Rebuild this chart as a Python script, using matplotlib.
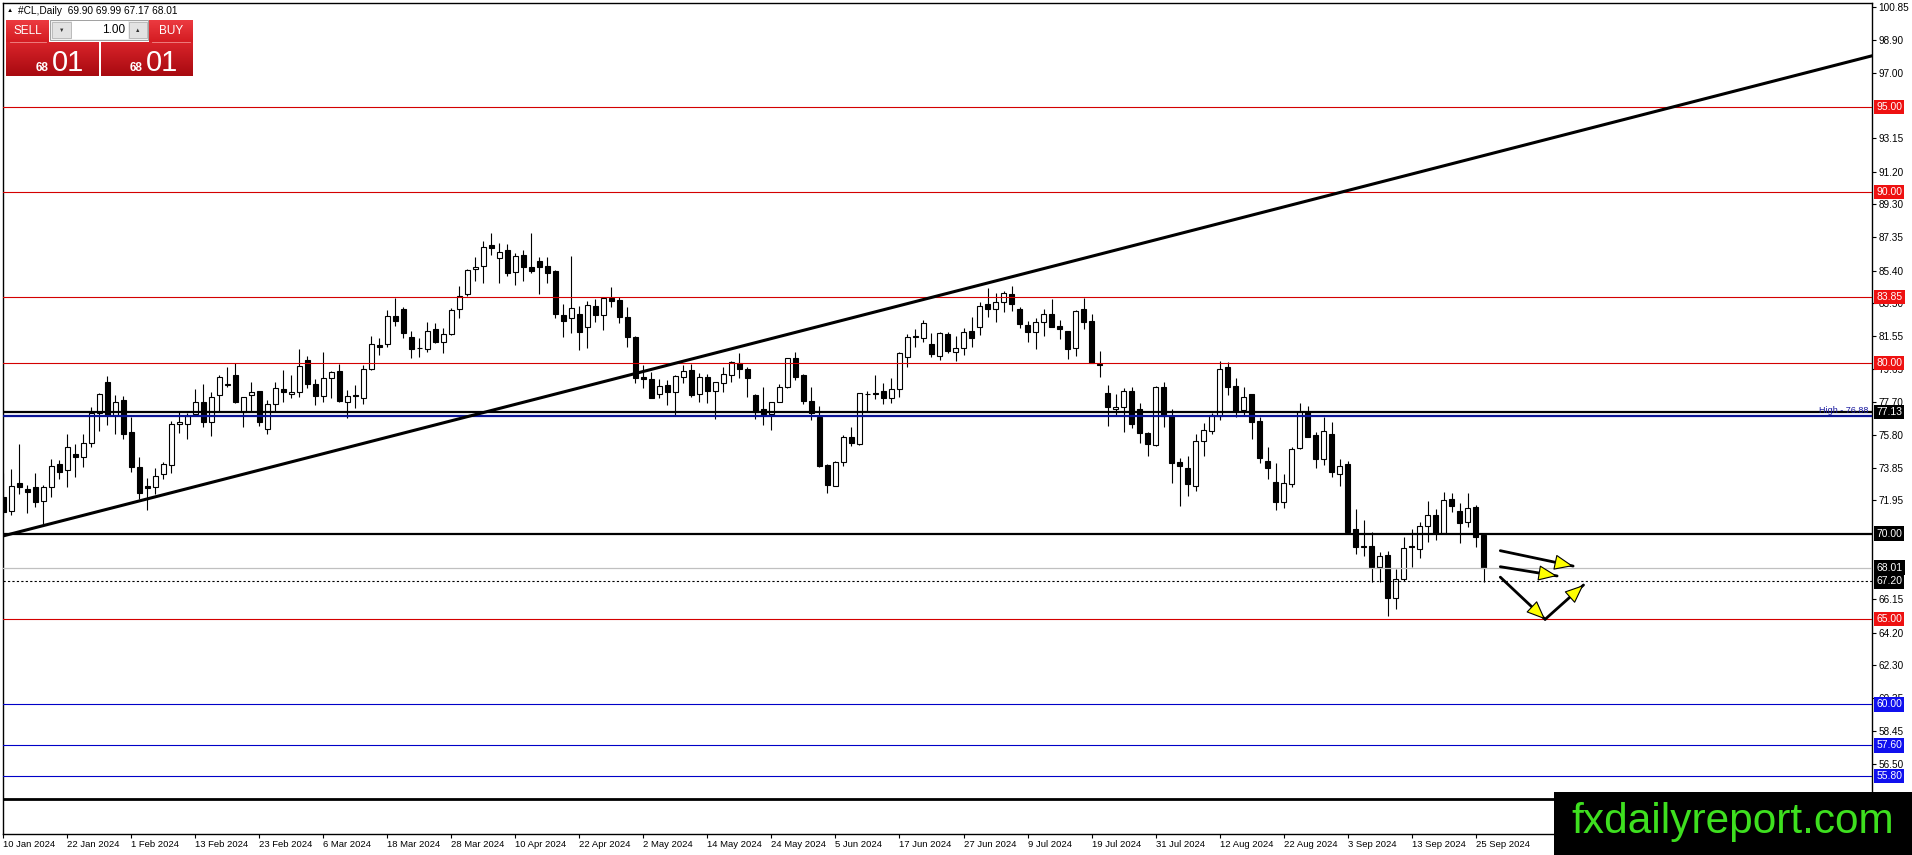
import matplotlib
matplotlib.use('Agg')
import matplotlib.pyplot as plt
from matplotlib.patches import Rectangle, FancyArrowPatch
import numpy as np

plt.rcParams['font.family'] = ['Liberation Sans', 'DejaVu Sans']

# #CL daily bars, 10 Jan 2024 .. 26 Sep 2024
opens = [72.16, 71.32, 72.95, 72.63, 72.75, 71.93, 72.75, 74.06, 73.73, 74.64,
         74.47, 75.29, 77.05, 78.90, 76.95, 77.83, 75.93, 73.88, 72.79, 72.75,
         73.49, 74.02, 76.42, 76.42, 76.99, 77.73, 76.56, 78.12, 78.71, 79.29,
         77.14, 78.12, 78.35, 76.13, 77.57, 78.45, 78.16, 78.28, 80.17, 78.74,
         78.08, 79.10, 79.52, 77.73, 78.12, 77.92, 79.62, 81.05, 81.09, 82.75,
         83.16, 81.50, 80.85, 80.80, 81.97, 81.20, 81.67, 83.14, 84.02, 85.48,
         85.68, 86.91, 86.12, 86.61, 85.35, 86.32, 85.60, 85.99, 85.68, 85.40,
         82.81, 82.61, 82.87, 82.12, 83.33, 82.81, 83.78, 83.69, 82.71, 81.50,
         79.16, 79.06, 78.18, 78.71, 78.32, 79.20, 79.58, 78.16, 79.16, 78.37,
         78.80, 79.29, 79.97, 79.64, 78.12, 77.28, 77.00, 77.73, 78.61, 80.27,
         79.29, 77.79, 76.85, 74.02, 72.81, 74.21, 75.64, 75.23, 78.16, 78.26,
         78.35, 77.92, 78.45, 80.37, 81.56, 81.44, 81.11, 80.43, 81.69, 80.66,
         80.85, 81.87, 82.12, 83.45, 83.16, 83.59, 84.04, 83.14, 82.22, 81.79,
         82.38, 82.87, 82.16, 81.87, 80.85, 83.14, 82.45, 79.93, 78.22, 77.28,
         77.43, 78.35, 77.28, 75.87, 75.19, 78.61, 76.91, 74.18, 73.86, 72.81,
         75.42, 76.01, 76.89, 79.74, 78.67, 77.24, 78.18, 76.60, 74.27, 73.04,
         71.87, 72.90, 75.03, 77.14, 75.78, 74.35, 75.82, 73.47, 74.06, 70.27,
         69.20, 69.27, 68.06, 68.75, 66.21, 67.32, 69.24, 69.10, 70.47, 71.09,
         70.05, 72.00, 71.33, 70.70, 71.54, 69.90]
highs = [73.53, 73.77, 75.23, 72.85, 73.53, 72.85, 74.37, 74.31, 75.83, 75.25,
         75.83, 77.43, 78.22, 79.23, 78.12, 78.06, 76.85, 74.47, 73.24, 73.82,
         74.22, 76.62, 77.20, 77.09, 78.45, 78.77, 78.31, 79.29, 79.78, 79.97,
         78.02, 78.86, 78.35, 77.83, 78.90, 79.58, 79.29, 80.80, 80.40, 79.04,
         80.62, 79.55, 79.93, 78.41, 78.71, 79.88, 81.60, 81.44, 83.10, 83.82,
         83.26, 81.89, 81.44, 82.42, 82.32, 82.02, 83.20, 84.50, 85.48, 86.19,
         87.16, 87.63, 87.04, 86.97, 86.42, 86.61, 87.63, 86.19, 86.22, 85.44,
         83.45, 86.26, 83.33, 83.65, 83.72, 83.84, 84.47, 83.84, 83.26, 81.58,
         79.88, 79.49, 79.04, 79.00, 79.29, 79.88, 79.93, 79.43, 79.35, 78.86,
         79.78, 80.11, 80.56, 79.78, 78.20, 78.61, 77.73, 78.74, 80.31, 80.63,
         79.35, 78.57, 77.50, 74.08, 74.27, 75.78, 76.22, 78.26, 78.35, 79.29,
         78.84, 79.10, 80.62, 81.69, 81.97, 82.51, 81.77, 81.83, 81.79, 81.58,
         82.02, 82.67, 83.59, 84.37, 84.08, 84.23, 84.50, 83.29, 82.45, 82.61,
         83.14, 83.72, 82.51, 81.89, 83.10, 83.78, 82.87, 80.70, 78.70, 78.18,
         78.51, 78.61, 77.63, 75.93, 78.65, 78.86, 77.28, 74.41, 74.55, 75.82,
         76.46, 77.09, 80.13, 80.07, 79.14, 78.57, 78.18, 76.81, 75.05, 74.12,
         73.47, 75.05, 77.63, 77.49, 75.97, 76.85, 76.56, 74.37, 74.27, 71.42,
         70.80, 70.07, 68.90, 69.00, 67.91, 69.78, 70.25, 70.66, 71.91, 71.42,
         72.42, 72.36, 71.77, 72.36, 71.68, 69.99]
lows = [70.99, 71.09, 72.32, 71.19, 71.57, 70.56, 72.16, 73.20, 72.71, 73.34,
        73.92, 75.09, 76.03, 76.36, 75.82, 75.52, 73.63, 72.01, 71.38, 72.32,
        73.18, 73.53, 75.87, 75.52, 76.95, 76.26, 75.74, 77.14, 78.61, 77.67,
        76.26, 77.14, 76.30, 75.82, 77.20, 77.73, 77.92, 78.02, 78.51, 77.53,
        77.73, 77.96, 77.73, 76.75, 77.34, 77.59, 79.58, 80.46, 80.95, 82.16,
        81.44, 80.27, 80.37, 80.66, 81.19, 80.56, 81.63, 82.61, 83.92, 84.82,
        84.66, 86.32, 84.66, 85.09, 84.56, 84.82, 85.25, 84.04, 84.70, 82.61,
        81.54, 81.77, 80.76, 80.85, 82.42, 81.93, 83.26, 82.36, 80.91, 78.80,
        78.51, 77.92, 77.92, 77.53, 76.95, 78.84, 78.02, 77.73, 77.67, 76.70,
        78.31, 78.90, 79.10, 78.02, 76.70, 76.36, 76.07, 77.73, 78.51, 79.00,
        77.58, 76.64, 73.92, 72.40, 72.79, 73.98, 75.15, 75.19, 77.14, 77.87,
        77.59, 77.63, 77.98, 79.74, 80.91, 81.24, 80.33, 80.17, 80.60, 80.13,
        80.46, 80.91, 81.63, 82.71, 82.38, 83.00, 83.06, 82.06, 81.24, 80.79,
        81.58, 82.08, 81.40, 80.21, 80.42, 81.99, 79.97, 79.16, 76.32, 76.95,
        75.97, 76.21, 75.33, 74.57, 75.15, 76.23, 72.94, 71.64, 72.20, 72.52,
        74.57, 75.82, 76.66, 78.12, 76.81, 76.91, 75.52, 74.12, 73.18, 71.38,
        71.52, 72.75, 74.94, 75.64, 73.82, 74.02, 73.34, 72.81, 70.06, 68.79,
        68.69, 67.15, 67.19, 65.17, 65.56, 67.22, 68.06, 68.55, 69.53, 69.63,
        70.02, 71.29, 69.43, 70.40, 69.20, 67.17]
closes = [71.28, 72.81, 72.71, 72.46, 71.87, 72.75, 73.98, 73.59, 75.09, 74.47,
          75.29, 77.05, 78.18, 76.95, 77.73, 75.82, 73.88, 72.36, 72.69, 73.39,
          74.08, 76.42, 76.56, 76.91, 77.73, 76.52, 78.02, 79.19, 78.71, 77.73,
          78.02, 78.31, 76.52, 77.57, 78.51, 78.28, 78.28, 79.82, 78.74, 78.08,
          79.10, 79.45, 77.79, 78.06, 78.06, 79.62, 81.09, 80.95, 82.77, 82.47,
          81.73, 80.80, 80.85, 81.89, 81.24, 81.67, 83.10, 83.94, 85.44, 85.60,
          86.81, 86.71, 86.52, 85.29, 86.26, 85.60, 85.40, 85.64, 85.29, 82.87,
          82.47, 83.20, 81.83, 83.39, 82.81, 83.78, 83.65, 82.71, 81.50, 79.10,
          79.04, 77.96, 78.65, 78.32, 79.23, 79.55, 78.12, 79.16, 78.37, 78.86,
          79.35, 80.07, 79.62, 79.10, 77.14, 77.00, 77.73, 78.57, 80.27, 79.19,
          77.79, 77.07, 73.96, 72.85, 74.21, 75.64, 75.33, 78.22, 78.20, 78.20,
          77.92, 78.45, 80.56, 81.50, 81.50, 82.36, 80.52, 81.73, 80.72, 80.85,
          81.79, 81.48, 83.35, 83.14, 83.59, 84.08, 83.43, 82.26, 81.79, 82.42,
          82.87, 82.12, 81.97, 80.79, 83.06, 82.38, 79.97, 79.90, 77.43, 77.43,
          78.35, 76.40, 75.87, 75.23, 78.61, 76.91, 74.12, 73.98, 72.89, 75.42,
          76.07, 76.95, 79.62, 78.61, 77.18, 78.02, 76.56, 74.41, 73.86, 71.87,
          72.94, 74.96, 77.14, 75.68, 74.35, 76.01, 73.59, 73.98, 70.12, 69.20,
          69.29, 68.06, 68.71, 66.21, 67.32, 69.14, 69.22, 70.47, 71.09, 70.02,
          71.97, 71.64, 70.64, 71.48, 69.78, 68.01]

date_labels = ['10 Jan 2024', '22 Jan 2024', '1 Feb 2024', '13 Feb 2024', '23 Feb 2024',
               '6 Mar 2024', '18 Mar 2024', '28 Mar 2024', '10 Apr 2024', '22 Apr 2024',
               '2 May 2024', '14 May 2024', '24 May 2024', '5 Jun 2024', '17 Jun 2024',
               '27 Jun 2024', '9 Jul 2024', '19 Jul 2024', '31 Jul 2024', '12 Aug 2024',
               '22 Aug 2024', '3 Sep 2024', '13 Sep 2024', '25 Sep 2024']
bars_per_label = 8

price_ticks = [100.85, 98.90, 97.00, 93.15, 91.20, 89.30, 87.35, 85.40, 83.50, 81.55,
               79.65, 77.70, 75.80, 73.85, 71.95, 66.15, 64.20, 62.30, 60.35, 58.45, 56.50]

# horizontal levels
red_levels = [95.00, 90.00, 83.85, 80.00, 65.00]
blue_levels = [60.00, 57.60, 55.80]
black_levels = [77.13, 70.00]
high_level = 76.88
bid_level = 68.01
dashed_level = 67.20
bottom_level = 54.45

# trend line through two points (bar, price)
trend_bars = [0, 100]
trend_prices = [69.87, 81.91]

# arrows (bar, price): start -> end
arrow_starts = [(187.1, 69.00), (187.1, 68.06), (187.1, 67.45), (192.7, 64.98)]
arrow_ends = [(196.2, 68.10), (194.2, 67.52), (192.7, 64.98), (197.5, 66.99)]

# price tags on the right scale
tag_prices = [95.00, 90.00, 83.85, 80.00, 77.13, 70.00, 68.01, 67.20, 65.00, 60.00, 57.60, 55.80]
tag_colors = ['#ee1111', '#ee1111', '#ee1111', '#ee1111', 'black', 'black', 'black', 'black',
              '#ee1111', '#1010ee', '#1010ee', '#1010ee']

W, H = 1912, 855
fig = plt.figure(figsize=(W / 100, H / 100), dpi=100)
ax = fig.add_axes([3 / W, (H - 834) / H, 1869 / W, 831 / H])

o = np.array(opens)
h = np.array(highs)
l = np.array(lows)
c = np.array(closes)
x = np.arange(len(o))
up = c >= o

# candles
ax.vlines(x, l, h, color='black', lw=0.8, zorder=2)
body_bottom = np.minimum(o, c)
body_height = np.maximum(np.abs(c - o), 0.03)
ax.bar(x[up], body_height[up], bottom=body_bottom[up], width=0.6,
       color='white', edgecolor='black', linewidth=0.8, zorder=3)
ax.bar(x[~up], body_height[~up], bottom=body_bottom[~up], width=0.6,
       color='black', edgecolor='black', linewidth=0.8, zorder=3)

# levels
for p in red_levels:
    ax.axhline(p, color='#d40000', lw=0.8, zorder=4)
for p in blue_levels:
    ax.axhline(p, color='#0000c8', lw=0.8, zorder=4)
for p in black_levels:
    ax.axhline(p, color='black', lw=1.6, zorder=4)
ax.axhline(high_level, color='#0a1496', lw=1.6, zorder=4)
ax.axhline(bid_level, color='#c0c0c0', lw=0.9, zorder=4)
ax.axhline(dashed_level, color='black', lw=0.8, dashes=(2, 2), zorder=4)
ax.axhline(bottom_level, color='black', lw=2.0, zorder=4)

ax.axline((trend_bars[0], trend_prices[0]), (trend_bars[1], trend_prices[1]),
          color='black', lw=2.2, zorder=5)

# arrows: black shaft, yellow head
for (sx, sy), (ex, ey) in zip(arrow_starts, arrow_ends):
    ax.plot([sx, ex], [sy, ey], color='black', lw=2.0, zorder=6, solid_capstyle='round')
    ax.add_patch(FancyArrowPatch((sx, sy), (ex, ey), arrowstyle='-|>,head_length=1.2,head_width=0.5',
                                 mutation_scale=10, facecolor='#ffff00', edgecolor='black',
                                 lw=0.8, shrinkA=0, shrinkB=0, zorder=7))

ax.text(0.998, high_level + 0.05, 'High - 76.88', transform=ax.get_yaxis_transform(),
        ha='right', va='bottom', fontsize=6.5, color='#1a1aa0', zorder=8)

ax.set_xlim(-0.06, 233.56)
ax.set_ylim(52.403, 101.084)

# axes and scales
ax.yaxis.tick_right()
ax.set_yticks(price_ticks)
ax.set_yticklabels([f'{v:.2f}' for v in price_ticks])
ax.tick_params(axis='y', direction='out', length=3, width=0.8, pad=1.5, labelsize=7.2)

ax.set_xticks(x[::bars_per_label])
ax.set_xticklabels(date_labels)
ax.tick_params(axis='x', direction='out', length=3, width=0.8, pad=1, labelsize=6.8)
plt.setp(ax.get_xticklabels(), ha='left')

for s in ax.spines.values():
    s.set_linewidth(1.0)
    s.set_color('black')

for p, col in zip(tag_prices, tag_colors):
    ax.text(1.0022, p, f'{p:.2f}', transform=ax.get_yaxis_transform(),
            ha='left', va='center', fontsize=7.5, color='white', zorder=10, clip_on=False,
            bbox=dict(boxstyle='square,pad=0.22', fc=col, ec='none'))

# overlay in pixel coordinates for the trade panel, header and logo
ov = fig.add_axes([0, 0, 1, 1], zorder=5)
ov.patch.set_alpha(0)
ov.axis('off')


def gradient_box(x0, y0, w, hgt, top, bottom):
    t = np.array(matplotlib.colors.to_rgb(top))
    b = np.array(matplotlib.colors.to_rgb(bottom))
    k = np.linspace(0, 1, 24)[:, None, None]
    img = t * (1 - k) + b * k
    ov.imshow(img, extent=(x0, x0 + w, y0 + hgt, y0), aspect='auto', interpolation='bilinear')


gradient_box(6, 42, 93, 34, '#d8232a', '#a80a10')
gradient_box(101, 42, 92, 34, '#d8232a', '#a80a10')
gradient_box(6, 20, 43, 22, '#ec3a40', '#d41c22')
gradient_box(149, 20, 44, 22, '#ec3a40', '#d41c22')
ov.plot([10, 46], [42, 42], color='#f08a8a', lw=0.6)
ov.plot([152, 190], [42, 42], color='#f08a8a', lw=0.6)

ov.add_patch(Rectangle((50, 20), 98, 20, fc='#efefef', ec='#a0a0a0', lw=0.7))
ov.add_patch(Rectangle((52, 22), 19, 16, fc='#e2e2e2', ec='#b4b4b4', lw=0.6))
ov.add_patch(Rectangle((129, 22), 18, 16, fc='#e2e2e2', ec='#b4b4b4', lw=0.6))
ov.add_patch(Rectangle((72, 21), 56, 18, fc='white', ec='none'))
ov.text(61.5, 30, '▼', fontsize=4, ha='center', va='center', color='#333333')
ov.text(138, 30, '▲', fontsize=4, ha='center', va='center', color='#333333')
ov.text(125, 30, '1.00', fontsize=8.5, ha='right', va='center', color='black')

ov.text(27.5, 31, 'SELL', fontsize=8.5, ha='center', va='center', color='white')
ov.text(171, 31, 'BUY', fontsize=8.5, ha='center', va='center', color='white')
ov.text(49, 71, '68', fontsize=8.5, fontweight='bold', ha='right', va='baseline', color='white')
ov.text(52, 71, '01', fontsize=21, ha='left', va='baseline', color='white')
ov.text(143, 71, '68', fontsize=8.5, fontweight='bold', ha='right', va='baseline', color='white')
ov.text(146, 71, '01', fontsize=21, ha='left', va='baseline', color='white')

ov.text(7, 10.5, '▲', fontsize=4.5, ha='left', va='center', color='black')
ov.text(18, 10.5, f'#CL,Daily  {opens[-1]:.2f} {highs[-1]:.2f} {lows[-1]:.2f} {closes[-1]:.2f}',
        fontsize=7.3, ha='left', va='center', color='black')

ov.add_patch(Rectangle((1554, 792), W - 1554, H - 792, fc='black', ec='none'))
ov.text(1733, 833, 'fxdailyreport.com', fontsize=30.5, ha='center', va='baseline', color='#3ee01f')

ov.set_xlim(0, W)
ov.set_ylim(H, 0)

fig.savefig('out.png', dpi=100, facecolor='white')
